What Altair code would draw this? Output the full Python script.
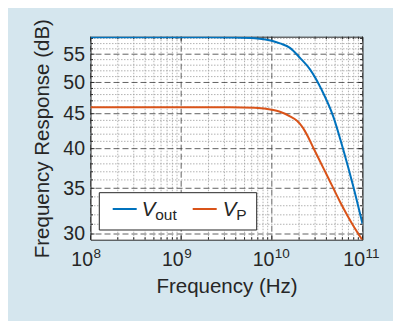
import altair as alt
import pandas as pd

# ---- data ----
freq_vout = [1e8, 2e9, 3.5e9, 6.5e9, 1e10, 1.23e10, 1.585e10, 2.045e10, 2.636e10, 3.548e10,
             4.764e10, 6.142e10, 7.915e10, 1e11]
db_vout = [58.25, 58.25, 58.2, 58.05, 57.55, 57.03, 56.19, 54.32, 52.26, 48.77,
           44.57, 39.84, 35.2, 31.04]
freq_vp = [1e8, 3.5e9, 6.5e9, 1e10, 1.23e10, 1.585e10, 1.894e10, 2.206e10, 2.505e10, 2.867e10,
           3.398e10, 4.029e10, 5.647e10, 7.915e10, 1e11]
db_vp = [46.0, 46.0, 45.9, 45.6, 45.29, 44.61, 43.94, 42.91, 41.63, 40.12,
         38.33, 36.64, 33.45, 30.85, 29.38]

series_names = ["Vout", "VP"]
series_colors = ["#0072BD", "#D95319"]
legend_main = ["V", "V"]
legend_sub = ["out", "P"]

x_major = [1e8, 1e9, 1e10, 1e11]
x_exponents = ["8", "9", "10", "11"]
x_minor = [k * 10.0 ** d for d in (8, 9, 10) for k in range(2, 10)]
y_major = [30, 35, 40, 45, 50, 55]
y_minor = [v for v in range(30, 59) if v % 5 != 0]
x_domain = [1e8, 1e11]
y_domain = [29.43, 58.34]

W, H = 272, 203
FONT = "Liberation Sans"
INK = "#262626"
BG = "#d5e6ee"

xs = alt.Scale(type="log", domain=x_domain, nice=False)
ys = alt.Scale(type="log", domain=y_domain, nice=False)

XA = alt.Axis(
    title="Frequency (Hz)", labels=False, ticks=False, domain=False, grid=False,
    titlePadding=37, titleFont=FONT, titleFontSize=20.5, titleFontWeight="normal",
    titleColor=INK)
YA = alt.Axis(
    title="Frequency Response (dB)", values=y_major, format="d", ticks=False,
    domain=False, grid=False, labelPadding=6, labelFont=FONT, labelFontSize=19.5,
    labelColor=INK, labelOverlap=False, titlePadding=10, titleFont=FONT,
    titleFontSize=20.5, titleFontWeight="normal", titleColor=INK)

lines = pd.DataFrame({
    "f": freq_vout + freq_vp,
    "v": db_vout + db_vp,
    "s": [series_names[0]] * len(freq_vout) + [series_names[1]] * len(freq_vp),
})
xmaj = pd.DataFrame({"f": x_major, "e": x_exponents})
xmin = pd.DataFrame({"f": x_minor})
ymaj = pd.DataFrame({"v": y_major})
ymin = pd.DataFrame({"v": y_minor})
one = pd.DataFrame({"a": [0]})


def X():
    return alt.X("f:Q", scale=xs, axis=XA)


def Y():
    return alt.Y("v:Q", scale=ys, axis=YA)


minor_style = dict(color="#a0a0a0", strokeWidth=0.8, strokeDash=[1.5, 1.5])
major_style = dict(color="#3a3a3a", strokeWidth=0.8, strokeDash=[6, 3])

layers = [
    alt.Chart(xmin).mark_rule(**minor_style).encode(x=X()),
    alt.Chart(ymin).mark_rule(**minor_style).encode(y=Y()),
    alt.Chart(xmaj).mark_rule(**major_style).encode(x=X()),
    alt.Chart(ymaj).mark_rule(**major_style).encode(y=Y()),
]

# inward ticks on all four sides
for df, L in ((xmaj, 4), (xmin, 2.5)):
    layers.append(alt.Chart(df).mark_rule(color=INK, strokeWidth=1).encode(
        x=X(), y=alt.value(H), y2=alt.value(H - L)))
    layers.append(alt.Chart(df).mark_rule(color=INK, strokeWidth=1).encode(
        x=X(), y=alt.value(0), y2=alt.value(L)))
for df, L in ((ymaj, 4), (ymin, 2.5)):
    layers.append(alt.Chart(df).mark_rule(color=INK, strokeWidth=1).encode(
        y=Y(), x=alt.value(0), x2=alt.value(L)))
    layers.append(alt.Chart(df).mark_rule(color=INK, strokeWidth=1).encode(
        y=Y(), x=alt.value(W), x2=alt.value(W - L)))

line = alt.Chart(lines).mark_line(strokeWidth=2, clip=True, interpolate="monotone").encode(
    x=X(),
    y=Y(),
    color=alt.Color("s:N", scale=alt.Scale(domain=series_names, range=series_colors), legend=None),
    detail="s:N",
)
layers.append(line)

# x tick labels 10^n
layers.append(alt.Chart(xmaj).mark_text(
    text="10", align="right", baseline="alphabetic", font=FONT, fontSize=19.5, color=INK, dx=2.5
).encode(x=X(), y=alt.value(H + 26)))
layers.append(alt.Chart(xmaj).mark_text(
    align="left", baseline="alphabetic", font=FONT, fontSize=13.5, color=INK, dx=3
).encode(x=X(), y=alt.value(H + 18.3), text="e:N"))

# legend
layers.append(alt.Chart(one).mark_rect(fill="white", stroke=INK, strokeWidth=1).encode(
    x=alt.value(8.8), x2=alt.value(166.2), y=alt.value(156), y2=alt.value(193.3)))
for i, (x0, xt) in enumerate(((22.2, 51.2), (102.2, 132.2))):
    layers.append(alt.Chart(one).mark_rule(color=series_colors[i], strokeWidth=2).encode(
        x=alt.value(x0), x2=alt.value(x0 + 24), y=alt.value(172.3)))
    layers.append(alt.Chart(one).mark_text(
        text=legend_main[i], align="left", baseline="alphabetic", font=FONT, fontSize=20.5,
        fontStyle="italic", color=INK).encode(x=alt.value(xt), y=alt.value(179.3)))
    layers.append(alt.Chart(one).mark_text(
        text=legend_sub[i], align="left", baseline="alphabetic", font=FONT, fontSize=15.5,
        color=INK).encode(x=alt.value(xt + 13.5), y=alt.value(183.3)))

chart = alt.layer(*layers).properties(
    width=W, height=H, background=BG,
    padding={"left": 82.5, "top": 28.7, "right": 30.5, "bottom": 81},
    autosize=alt.AutoSizeParams(type="none"),
).configure_view(stroke=INK, strokeWidth=1, fill="white")

chart.save("out.html", embed_options={"renderer": "svg", "actions": False})
